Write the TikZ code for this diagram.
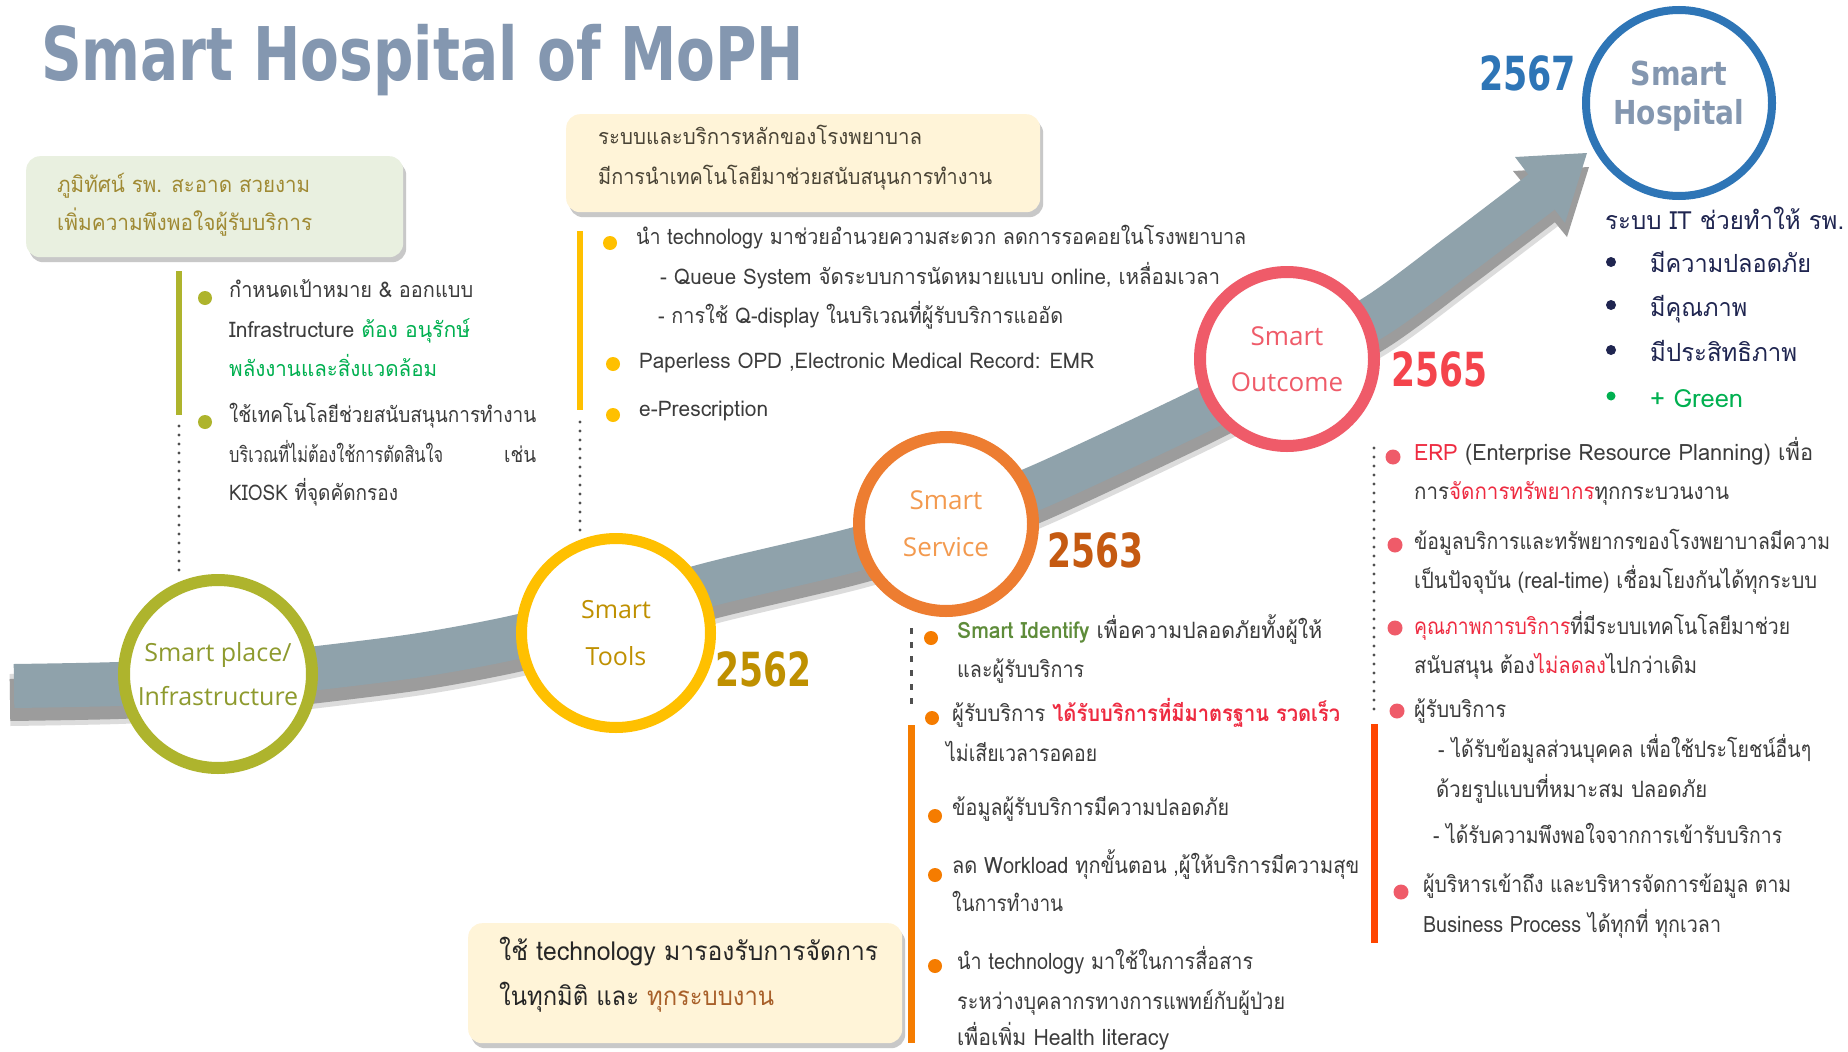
\documentclass[tikz,border=0pt]{standalone}
\usepackage{fontspec}
\usepackage{graphicx}
\usetikzlibrary{shadows}
\newfontfamily\thaif[Script=Thai]{Loma}
\newfontfamily\osans{Open Sans}
\newfontfamily\dvs{DejaVu Sans}
\newcommand\fitw[2]{\resizebox{#1pt}{\height}{#2}}
\definecolor{bandc}{HTML}{8FA2AB}
\definecolor{bandsh}{HTML}{9C9C9C}
\definecolor{olivec}{HTML}{AEB42D}
\definecolor{olivetxt}{HTML}{8E9A2E}
\definecolor{boxgreen}{HTML}{E9F0E0}
\definecolor{boxgreentxt}{HTML}{A08A34}
\definecolor{goldc}{HTML}{FFC000}
\definecolor{goldtxt}{HTML}{BF9000}
\definecolor{boxyellow}{HTML}{FFF4D8}
\definecolor{boxytxt}{HTML}{4A4436}
\definecolor{orngc}{HTML}{ED7D31}
\definecolor{orngtxt}{HTML}{F39A4F}
\definecolor{orngyear}{HTML}{C55A11}
\definecolor{orngbar}{HTML}{F57C00}
\definecolor{pinkc}{HTML}{EF5B69}
\definecolor{redyear}{HTML}{F4444C}
\definecolor{redbar}{HTML}{FF4500}
\definecolor{bluc}{HTML}{2E75B6}
\definecolor{titleblue}{HTML}{8497B0}
\definecolor{bodyc}{HTML}{3C3C3C}
\definecolor{grnc}{HTML}{00B050}
\definecolor{navyc}{HTML}{1F2550}
\definecolor{redtxt}{HTML}{EE2A40}
\definecolor{sidgreen}{HTML}{5E8C3A}
\definecolor{browntxt}{HTML}{A8602A}
\definecolor{dotgray}{HTML}{505050}
\tikzset{
  txtline/.style={anchor=base west, inner sep=0pt, text=bodyc, font=\thaif\fontsize{21.5}{25}\selectfont},
  txtbig/.style={txtline, font=\thaif\fontsize{22.5}{26}\selectfont},
  bigline/.style={anchor=base west, inner sep=0pt, text=navyc, font=\thaif\fontsize{25}{30}\selectfont},
  ringnode/.style={circle, fill=white, line width=12pt, inner sep=0pt, minimum size=188pt, align=center},
  yearlbl/.style={anchor=west, inner sep=0pt, font=\dvs\bfseries\fontsize{47}{47}\selectfont},
  tbox/.style={anchor=north west, rounded corners=14pt, inner sep=0pt,
    drop shadow={shadow xshift=3pt, shadow yshift=-5pt, opacity=0.3, fill=black!70}},
  vbar/.style={line width=6pt},
  dotline/.style={draw=dotgray, line width=3.4pt, line cap=round, dash pattern=on 0pt off 9pt},
}
\begin{document}
\begin{tikzpicture}[x=1pt,y=-1pt]
\useasboundingbox (0,0) rectangle (1848,1052);
\fill[white] (0,0) rectangle (1848,1052);

% title
\node[anchor=base west, inner sep=0pt, text=titleblue, font=\dvs\bfseries\fontsize{74}{74}\selectfont] (title) at (41,80) {\resizebox{763pt}{\height}{Smart Hospital of MoPH}};

% band shadow
\draw[bandsh, opacity=0.35, line width=52pt] plot[smooth, tension=0.5] coordinates {(10,700) (118,698) (218,693) (318,682) (420,669) (516,651) (616,625) (715,597) (853,564) (946,536) (1040,500) (1194,428) (1287,380) (1379,328) (1460,268) (1548,201)};
\draw[bandsh, line width=42pt] plot[smooth, tension=0.5] coordinates {(10,700) (118,698) (218,693) (318,682) (420,669) (516,651) (616,625) (715,597) (853,564) (946,536) (1040,500) (1194,428) (1287,380) (1379,328) (1460,268) (1548,201)};
\fill[bandsh] (1513,171) -- (1589,167) -- (1567,237) -- cycle;
% band
\draw[bandc, line width=44pt] plot[smooth, tension=0.5] coordinates {(14,686) (118,684) (218,679) (318,668) (420,655) (516,637) (616,611) (715,583) (853,550) (946,522) (1040,486) (1194,414) (1287,366) (1379,314) (1460,254) (1548,187)};
\fill[bandc] (1515,157) -- (1587,153) -- (1565,223) -- cycle;

% circles
\node[ringnode, draw=olivec, text=olivetxt, font=\osans\fontsize{25}{44}\selectfont] (c1) at (218,674) {Smart place/\\Infrastructure};
\node[ringnode, draw=goldc, line width=11pt, minimum size=189pt, text=goldtxt, font=\osans\fontsize{25}{47}\selectfont] (c2) at (616,633) {Smart\\Tools};
\node[ringnode, draw=orngc, minimum size=174pt, text=orngtxt, font=\osans\fontsize{26}{47}\selectfont] (c3) at (946,524) {Smart\\Service};
\node[ringnode, draw=pinkc, minimum size=174pt, text=pinkc, font=\osans\fontsize{26}{46}\selectfont] (c4) at (1287,359) {Smart\\Outcome};
\node[ringnode, draw=bluc, line width=8pt, minimum size=186pt] (c5) at (1679,103) {};
\node[inner sep=0pt, align=center, text=titleblue, font=\dvs\bfseries\fontsize{33}{39}\selectfont] (c5t) at (1679,96) {\resizebox{97pt}{\height}{Smart}\\\resizebox{131pt}{\height}{Hospital}};

% years
\node[yearlbl, text=goldtxt] (y1) at (715,669) {\resizebox{96pt}{\height}{2562}};
\node[yearlbl, text=orngyear] (y2) at (1047,550) {\resizebox{96pt}{\height}{2563}};
\node[yearlbl, text=redyear] (y3) at (1391,369) {\resizebox{96pt}{\height}{2565}};
\node[yearlbl, text=bluc] (y4) at (1479,73) {\resizebox{97pt}{\height}{2567}};

% ---------- section 1 ----------
\node[tbox, fill=boxgreen, minimum width=377pt, minimum height=101pt] (box1) at (26,156) {};
\node[txtline, text=boxgreentxt, font=\thaif\fontsize{22}{26}\selectfont] (b1a) at (57,192) {\fitw{253}{ภูมิทัศน์ รพ. สะอาด สวยงาม}};
\node[txtline, text=boxgreentxt, font=\thaif\fontsize{22}{26}\selectfont] (b1b) at (57,230) {\fitw{255}{เพิ่มความพึงพอใจผู้รับบริการ}};
\draw[vbar, olivec] (179,271) -- (179,415);
\draw[dotline] (179,426) -- (179,578);
\fill[olivec] (205,298) circle (7);
\fill[olivec] (205,422) circle (7);
\node[txtline] (s1a) at (229,297) {\fitw{244}{กำหนดเป้าหมาย \& ออกแบบ}};
\node[txtline] (s1b) at (229,337) {\fitw{241}{Infrastructure \textcolor{grnc}{ต้อง อนุรักษ์}}};
\node[txtline, text=grnc] (s1c) at (229,376) {\fitw{208}{พลังงานและสิ่งแวดล้อม}};
\node[txtline] (s1d) at (229,422) {\fitw{307}{ใช้เทคโนโลยีช่วยสนับสนุนการทำงาน}};
\node[txtline] (s1e) at (229,462) {\makebox[307pt][l]{\fitw{214}{บริเวณที่ไม่ต้องใช้การตัดสินใจ}\hfill\fitw{32}{เช่น}}};
\node[txtline] (s1f) at (229,500) {\fitw{169}{KIOSK ที่จุดคัดกรอง}};

% ---------- section 2 ----------
\node[tbox, fill=boxyellow, minimum width=474pt, minimum height=98pt] (box2) at (566,114) {};
\node[txtline, text=boxytxt] (b2a) at (598,144) {\fitw{324}{ระบบและบริการหลักของโรงพยาบาล}};
\node[txtline, text=boxytxt] (b2b) at (598,184) {\fitw{394}{มีการนำเทคโนโลยีมาช่วยสนับสนุนการทำงาน}};
\draw[vbar, goldc] (580,231) -- (580,410);
\draw[dotline] (580,422) -- (580,534);
\fill[goldc] (610,243) circle (7);
\fill[goldc] (613,364) circle (7);
\fill[goldc] (613,415) circle (7);
\node[txtline] (s2a) at (636,244) {\fitw{610}{นำ technology มาช่วยอำนวยความสะดวก ลดการรอคอยในโรงพยาบาล}};
\node[txtline] (s2b) at (660,284) {\fitw{560}{- Queue System จัดระบบการนัดหมายแบบ online, เหลื่อมเวลา}};
\node[txtline] (s2c) at (658,323) {\fitw{405}{- การใช้ Q-display ในบริเวณที่ผู้รับบริการแออัด}};
\node[txtline] (s2d) at (639,368) {\fitw{455}{Paperless OPD ,Electronic Medical Record: EMR}};
\node[txtline] (s2e) at (639,416) {\fitw{129}{e-Prescription}};

% ---------- section 3 ----------
\draw[dotline, dash pattern=on 6pt off 8pt, line cap=butt, line width=3pt] (911,628) -- (911,707);
\draw[vbar, orngbar, line width=7pt] (911,725) -- (911,1043);
\foreach \yy/\xx in {638/931, 718/932, 816/935, 875/935, 966/935} \fill[orngbar] (\xx,\yy) circle (7);
\node[txtbig] (s3a) at (957,638) {\fitw{365}{\textcolor{sidgreen}{\bfseries Smart Identify} เพื่อความปลอดภัยทั้งผู้ให้}};
\node[txtbig] (s3b) at (957,677) {\fitw{127}{และผู้รับบริการ}};
\node[txtbig] (s3c) at (952,721) {\fitw{388}{ผู้รับบริการ \textcolor{redtxt}{\bfseries ได้รับบริการที่มีมาตรฐาน รวดเร็ว}}};
\node[txtbig] (s3d) at (946,761) {\fitw{151}{ไม่เสียเวลารอคอย}};
\node[txtbig] (s3e) at (952,815) {\fitw{277}{ข้อมูลผู้รับบริการมีความปลอดภัย}};
\node[txtbig] (s3f) at (952,873) {\fitw{407}{ลด Workload ทุกขั้นตอน ,ผู้ให้บริการมีความสุข}};
\node[txtbig] (s3g) at (952,911) {\fitw{111}{ในการทำงาน}};
\node[txtbig] (s3h) at (957,969) {\fitw{296}{นำ technology มาใช้ในการสื่อสาร}};
\node[txtbig] (s3i) at (957,1009) {\fitw{328}{ระหว่างบุคลากรทางการแพทย์กับผู้ป่วย}};
\node[txtbig] (s3j) at (957,1045) {\fitw{212}{เพื่อเพิ่ม Health literacy}};

\node[tbox, fill=boxyellow, minimum width=434pt, minimum height=120pt] (box3) at (468,923) {};
\node[txtline, text=black!85, font=\thaif\fontsize{26}{30}\selectfont] (b3a) at (499,960) {\fitw{379}{ใช้ technology มารองรับการจัดการ}};
\node[txtline, text=black!85, font=\thaif\fontsize{26}{30}\selectfont] (b3b) at (499,1005) {\fitw{275}{ในทุกมิติ และ \textcolor{browntxt}{ทุกระบบงาน}}};

% ---------- section 4 ----------
\draw[dotline] (1374,448) -- (1374,716);
\draw[vbar, redbar, line width=7pt] (1374,724) -- (1374,943);
\foreach \yy/\xx in {457/1393, 545/1395, 628/1395, 711/1397, 892/1401} \fill[pinkc] (\xx,\yy) circle (7.5);
\node[txtbig] (s4a) at (1414,460) {\fitw{399}{\textcolor{redtxt}{ERP} (Enterprise Resource Planning) เพื่อ}};
\node[txtbig] (s4b) at (1414,499) {\fitw{315}{การ\textcolor{redtxt}{จัดการทรัพยากร}ทุกกระบวนงาน}};
\node[txtbig] (s4c) at (1414,549) {\fitw{416}{ข้อมูลบริการและทรัพยากรของโรงพยาบาลมีความ}};
\node[txtbig] (s4d) at (1414,588) {\fitw{403}{เป็นปัจจุบัน (real-time) เชื่อมโยงกันได้ทุกระบบ}};
\node[txtbig] (s4e) at (1414,634) {\fitw{376}{\textcolor{redtxt}{คุณภาพการบริการ}ที่มีระบบเทคโนโลยีมาช่วย}};
\node[txtbig] (s4f) at (1414,673) {\fitw{283}{สนับสนุน ต้อง\textcolor{redtxt}{ไม่ลดลง}ไปกว่าเดิม}};
\node[txtbig] (s4g) at (1414,717) {\fitw{92}{ผู้รับบริการ}};
\node[txtbig] (s4h) at (1438,757) {\fitw{373}{- ได้รับข้อมูลส่วนบุคคล เพื่อใช้ประโยชน์อื่นๆ}};
\node[txtbig] (s4i) at (1436,797) {\fitw{271}{ด้วยรูปแบบที่หมาะสม ปลอดภัย}};
\node[txtbig] (s4j) at (1433,843) {\fitw{349}{- ได้รับความพึงพอใจจากการเข้ารับบริการ}};
\node[txtbig] (s4k) at (1423,892) {\fitw{368}{ผู้บริหารเข้าถึง และบริหารจัดการข้อมูล ตาม}};
\node[txtbig] (s4l) at (1423,932) {\fitw{298}{Business Process ได้ทุกที่ ทุกเวลา}};

% ---------- section 5 ----------
\node[bigline] (s5a) at (1605,229) {\fitw{239}{ระบบ IT ช่วยทำให้ รพ.}};
\foreach \yy in {262,305,350} \fill[navyc] (1611,\yy) circle (5);
\fill[grnc] (1611,396) circle (4.5);
\node[bigline] (s5b) at (1650,272) {\fitw{161}{มีความปลอดภัย}};
\node[bigline] (s5c) at (1650,316) {\fitw{97}{มีคุณภาพ}};
\node[bigline] (s5d) at (1650,361) {\fitw{147}{มีประสิทธิภาพ}};
\node[bigline, text=grnc] (s5e) at (1650,407) {\fitw{93}{+ Green}};
\end{tikzpicture}
\end{document}
